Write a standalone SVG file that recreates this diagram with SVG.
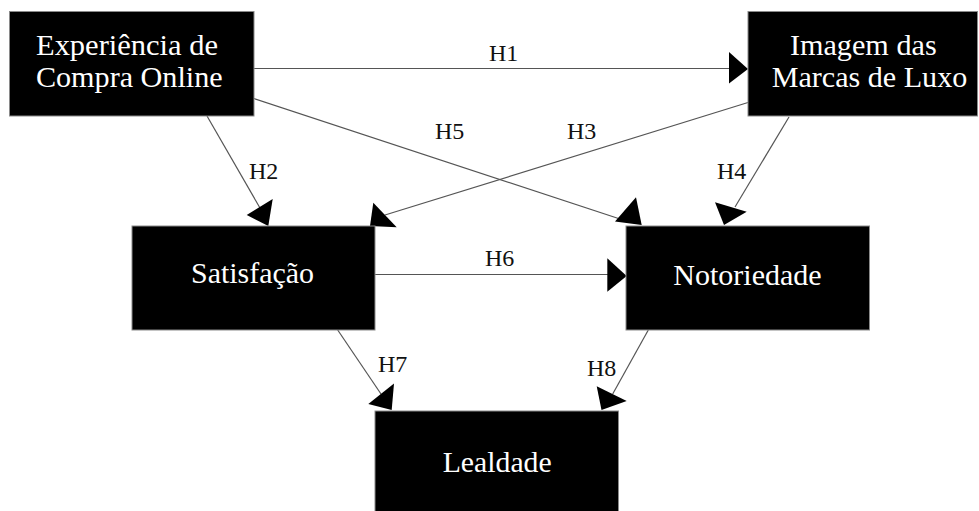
<svg xmlns="http://www.w3.org/2000/svg" width="979" height="511" viewBox="0 0 979 511">
<style>
.box{fill:#000;stroke:#8a8a8a;stroke-width:1}
.nt{fill:#fff;font-family:"Liberation Serif","DejaVu Serif",serif;font-size:30px;text-anchor:middle}
.lbl{fill:#111;font-family:"Liberation Serif","DejaVu Serif",serif;font-size:24px}
.ln{stroke:#555;stroke-width:1.2;fill:none}
.ah{fill:#000}
</style>
<rect width="979" height="511" fill="#fff"/>
<g id="connectors">
<line class="ln" x1="254" y1="68.5" x2="730" y2="68.5"/>
<polygon class="ah" points="729,52 729,83.5 748,69"/>
<line class="ln" x1="207" y1="116" x2="260" y2="208"/>
<polygon class="ah" points="246.7,215 272.7,199 268.3,226"/>
<line class="ln" x1="748" y1="102.5" x2="385" y2="215"/>
<polygon class="ah" points="373.3,202.7 370,226 396.7,227.3"/>
<line class="ln" x1="789" y1="117" x2="735" y2="207"/>
<polygon class="ah" points="715,202.3 746.7,211.7 724,225"/>
<line class="ln" x1="254" y1="98.5" x2="620" y2="219"/>
<polygon class="ah" points="636,197.3 615,221.5 641.7,225"/>
<line class="ln" x1="375" y1="274.5" x2="608" y2="274.5"/>
<polygon class="ah" points="607.3,258.3 607.3,291.7 626.7,276"/>
<line class="ln" x1="337.7" y1="330" x2="381" y2="394"/>
<polygon class="ah" points="394,383.5 368.3,404 391.7,410"/>
<line class="ln" x1="648.3" y1="330" x2="612.7" y2="394"/>
<polygon class="ah" points="596.7,386.3 626.7,401 601.5,410"/>
<text class="lbl" x="489" y="61">H1</text>
<text class="lbl" x="435" y="139">H5</text>
<text class="lbl" x="567" y="139">H3</text>
<text class="lbl" x="249" y="179">H2</text>
<text class="lbl" x="717" y="179">H4</text>
<text class="lbl" x="485" y="266">H6</text>
<text class="lbl" x="378" y="372">H7</text>
<text class="lbl" x="587" y="376">H8</text>
</g>
<g id="experiencia">
<rect class="box" x="9.5" y="11.5" width="244.5" height="104.5"/>
<text class="nt" x="127" y="55" textLength="182" lengthAdjust="spacingAndGlyphs">Experiência de</text>
<text class="nt" x="129.3" y="87" textLength="186.7" lengthAdjust="spacingAndGlyphs">Compra Online</text>
</g>
<g id="imagem">
<rect class="box" x="748" y="11.5" width="229.5" height="104.5"/>
<text class="nt" x="863.3" y="54.5" textLength="146.7" lengthAdjust="spacingAndGlyphs">Imagem das</text>
<text class="nt" x="869.5" y="87.3" textLength="195.6" lengthAdjust="spacingAndGlyphs">Marcas de Luxo</text>
</g>
<g id="satisfacao">
<rect class="box" x="132" y="226" width="243" height="104"/>
<text class="nt" x="252.5" y="283" textLength="123" lengthAdjust="spacingAndGlyphs">Satisfação</text>
</g>
<g id="notoriedade">
<rect class="box" x="626" y="226" width="243.5" height="104"/>
<text class="nt" x="747.5" y="285" textLength="148.4" lengthAdjust="spacingAndGlyphs">Notoriedade</text>
</g>
<g id="lealdade">
<rect class="box" x="375" y="411" width="243.5" height="105"/>
<text class="nt" x="497.2" y="471.7" textLength="109" lengthAdjust="spacingAndGlyphs">Lealdade</text>
</g>
</svg>
